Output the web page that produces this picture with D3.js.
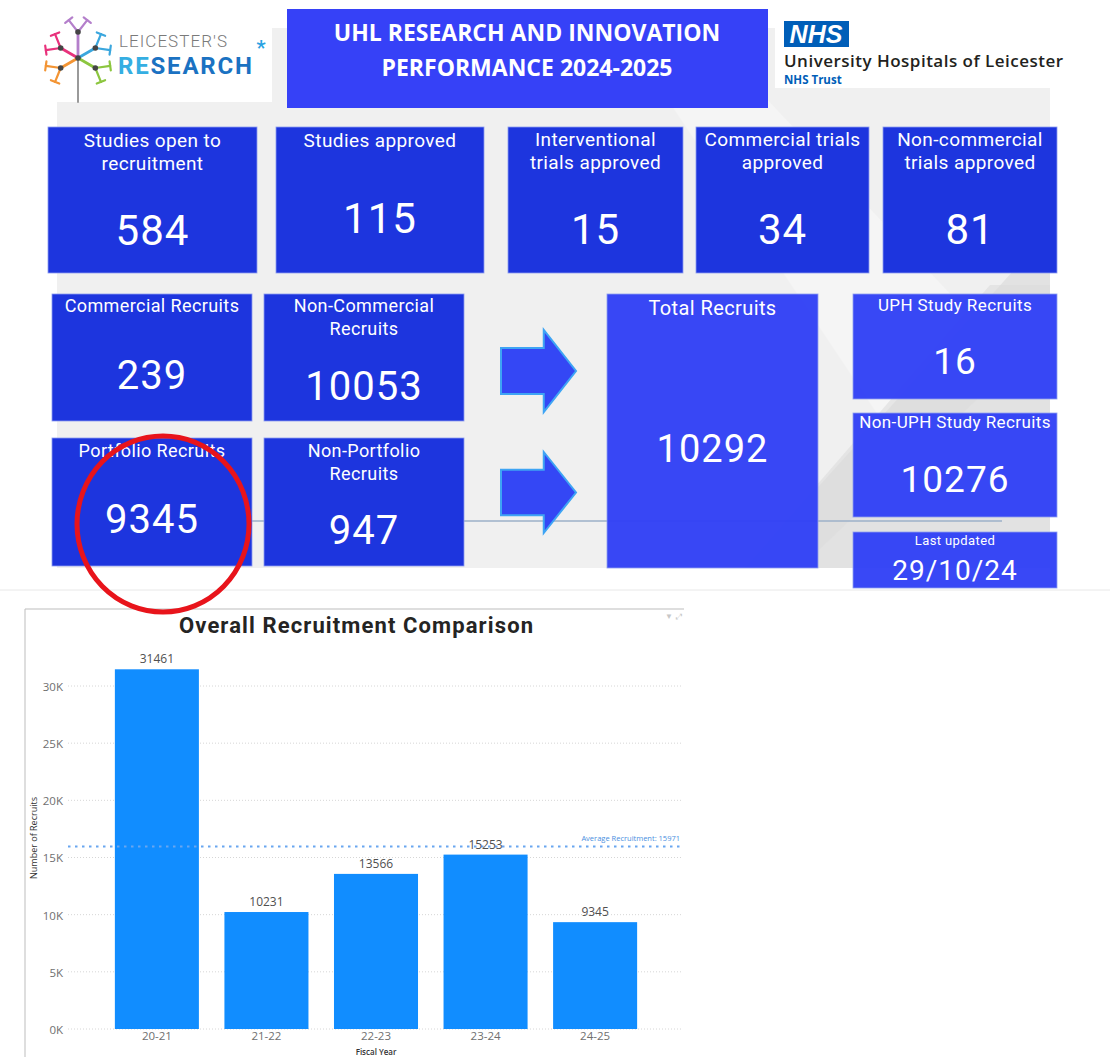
<!DOCTYPE html>
<html>
<head>
<meta charset="utf-8">
<script src="https://cdn.jsdelivr.net/npm/d3@7"></script>
<style>
  body { margin: 0; background: #fff; }
  svg { display: block; font-family: Roboto, "Noto Sans", sans-serif; }
</style>
</head>
<body>
<svg id="page" width="1110" height="1057"></svg>
<script>
// chart data
const fiscalYears = ["20-21", "21-22", "22-23", "23-24", "24-25"];
const recruits = [31461, 10231, 13566, 15253, 9345];
const yTicks = [0, 5000, 10000, 15000, 20000, 25000, 30000];

// KPI tiles
const kpiLabels = [
  "Studies open to\nrecruitment", "Studies approved", "Interventional\ntrials approved",
  "Commercial trials\napproved", "Non-commercial\ntrials approved",
  "Commercial Recruits", "Non-Commercial\nRecruits", "Portfolio Recruits", "Non-Portfolio\nRecruits",
  "Total Recruits", "UPH Study Recruits", "Non-UPH Study Recruits", "Last updated"
];
const kpiValues = ["584", "115", "15", "34", "81", "239", "10053", "9345", "947", "10292", "16", "10276", "29/10/24"];

const dark = "#1d35de", bright = "#3141f6";

// tile layout (same order as the labels)
const tileLayout = [
  {x: 48,  y: 127, w: 209, h: 146, ty: 20, vy: 118, ts: 19, vs: 42, c: dark},
  {x: 276, y: 127, w: 208, h: 146, ty: 20, vy: 106, ts: 19, vs: 42, c: dark},
  {x: 508, y: 127, w: 175, h: 146, ty: 19, vy: 117, ts: 19, vs: 42, c: dark},
  {x: 696, y: 127, w: 173, h: 146, ty: 19, vy: 117, ts: 19, vs: 42, c: dark},
  {x: 883, y: 127, w: 174, h: 146, ty: 19, vy: 117, ts: 19, vs: 42, c: dark},
  {x: 52,  y: 294, w: 200, h: 127, ty: 18, vy: 95,  ts: 18, vs: 40, c: dark},
  {x: 264, y: 294, w: 200, h: 127, ty: 18, vy: 106, ts: 18, vs: 40, c: dark},
  {x: 52,  y: 438, w: 200, h: 128, ty: 19, vy: 95,  ts: 18, vs: 40, c: dark},
  {x: 264, y: 438, w: 200, h: 128, ty: 19, vy: 106, ts: 18, vs: 40, c: dark},
  {x: 607, y: 294, w: 211, h: 274, ty: 21, vy: 168, ts: 20, vs: 38, c: bright},
  {x: 853, y: 294, w: 204, h: 105, ty: 17, vy: 80,  ts: 17, vs: 37, c: bright},
  {x: 853, y: 413, w: 204, h: 104, ty: 15, vy: 79,  ts: 17, vs: 37, c: bright},
  {x: 853, y: 532, w: 204, h: 56,  ty: 13, vy: 48,  ts: 13, vs: 28, c: bright}
];

const svg = d3.select("#page");

// grey report background + faint watermark
svg.append("rect").attr("x", 57).attr("y", 28).attr("width", 993).attr("height", 540).attr("fill", "#f0f0f0");
svg.append("polygon").attr("points", "620,28 700,28 1050,400 1050,568 980,568").attr("fill", "#f5f5f5");
svg.append("polygon").attr("points", "1050,230 1050,568 745,568").attr("fill", "#e2e2e2");
svg.append("polygon").attr("points", "990,285 1050,285 1050,330 800,568 745,568").attr("fill", "#dcdcdc").attr("opacity", 0.6);

// logo boxes
svg.append("rect").attr("x", 30).attr("y", 0).attr("width", 242).attr("height", 102).attr("fill", "#fff");
svg.append("rect").attr("x", 775).attr("y", 10).attr("width", 275).attr("height", 78).attr("fill", "#fff");

// Leicester's Research logo
const tree = svg.append("g").attr("stroke-linecap", "round");
tree.append("line").attr("x1", 78).attr("y1", 30).attr("x2", 78).attr("y2", 102)
  .attr("stroke", "#9a9a9a").attr("stroke-width", 2);
const branches = [
  {a: -90, c: "#b47fcb"}, {a: -150, c: "#e8327c"}, {a: -30, c: "#3ba7de"},
  {a: 150, c: "#f39433"}, {a: 30, c: "#8cc63f"}
];
const cx0 = 78, cy0 = 58;
branches.forEach(b => {
  const r = b.a * Math.PI / 180;
  const len = b.a === -90 ? 26 : 20;
  const nx = cx0 + len * Math.cos(r), ny = cy0 + len * Math.sin(r);
  tree.append("line").attr("x1", cx0).attr("y1", cy0).attr("x2", nx).attr("y2", ny)
    .attr("stroke", b.c).attr("stroke-width", 2.8);
  [-38, 38].forEach(d => {
    const r2 = (b.a + d) * Math.PI / 180;
    const ex = nx + 15 * Math.cos(r2), ey = ny + 15 * Math.sin(r2);
    tree.append("line").attr("x1", nx).attr("y1", ny).attr("x2", ex).attr("y2", ey)
      .attr("stroke", b.c).attr("stroke-width", 2.2);
    const rp = r2 + Math.PI / 2;
    tree.append("line")
      .attr("x1", ex - 4.5 * Math.cos(rp)).attr("y1", ey - 4.5 * Math.sin(rp))
      .attr("x2", ex + 4.5 * Math.cos(rp)).attr("y2", ey + 4.5 * Math.sin(rp))
      .attr("stroke", b.c).attr("stroke-width", 2.2);
  });
  tree.append("circle").attr("cx", nx).attr("cy", ny).attr("r", 2.8).attr("fill", "#444");
});
tree.append("circle").attr("cx", cx0).attr("cy", cy0).attr("r", 2.8).attr("fill", "#444");

svg.append("text").attr("x", 119).attr("y", 47).attr("font-size", 17).attr("font-weight", 300)
  .attr("fill", "#7a7a7a").attr("textLength", 108).text("LEICESTER'S");
const rs = svg.append("text").attr("x", 118).attr("y", 74).attr("font-size", 24).attr("font-weight", 700)
  .attr("textLength", 134);
rs.append("tspan").attr("fill", "#35aee2").text("RE");
rs.append("tspan").attr("fill", "#1b72c2").text("SEARCH");
svg.append("text").attr("x", 261).attr("y", 55).attr("text-anchor", "middle").attr("font-size", 20)
  .attr("font-weight", 700).attr("fill", "#2aa2e2").text("*");

// header
svg.append("rect").attr("x", 287).attr("y", 9).attr("width", 481).attr("height", 99).attr("fill", "#3641f7");
svg.append("text").attr("x", 527).attr("y", 41).attr("text-anchor", "middle").attr("fill", "#fff")
  .attr("font-family", "'Open Sans', sans-serif").attr("font-weight", 700).attr("font-size", 23)
  .text("UHL RESEARCH AND INNOVATION");
svg.append("text").attr("x", 527).attr("y", 76).attr("text-anchor", "middle").attr("fill", "#fff")
  .attr("font-family", "'Open Sans', sans-serif").attr("font-weight", 700).attr("font-size", 23)
  .text("PERFORMANCE 2024-2025");

// NHS logo
svg.append("rect").attr("x", 784).attr("y", 21).attr("width", 65).attr("height", 26).attr("fill", "#005eb8");
svg.append("text").attr("x", 816).attr("y", 43).attr("text-anchor", "middle").attr("fill", "#fff")
  .attr("font-family", "Arial, 'Liberation Sans', sans-serif").attr("font-weight", 700)
  .attr("font-style", "italic").attr("font-size", 25).text("NHS");
svg.append("text").attr("x", 784).attr("y", 67).attr("fill", "#231f20")
  .attr("font-family", "'Open Sans', sans-serif").attr("font-weight", 600).attr("font-size", 17)
  .attr("textLength", 279).text("University Hospitals of Leicester");
svg.append("text").attr("x", 784).attr("y", 84).attr("fill", "#005eb8")
  .attr("font-family", "'Open Sans', sans-serif").attr("font-weight", 700).attr("font-size", 11.5)
  .text("NHS Trust");

// thin connector line behind tiles
svg.append("line").attr("x1", 238).attr("y1", 521).attr("x2", 1002).attr("y2", 521)
  .attr("stroke", "#9db1c9").attr("stroke-width", 1.5);

// arrows
const arrowBoxes = [{x: 501, y: 330, w: 75, h: 82}, {x: 501, y: 452, w: 75, h: 81}];
svg.selectAll("path.arrow").data(arrowBoxes).join("path").attr("class", "arrow")
  .attr("d", a => {
    const hx = a.x + a.w * 0.57, s1 = a.y + a.h * 0.22, s2 = a.y + a.h * 0.78;
    return `M${a.x},${s1}H${hx}V${a.y}L${a.x + a.w},${a.y + a.h / 2}L${hx},${a.y + a.h}V${s2}H${a.x}Z`;
  })
  .attr("fill", "#3447f5").attr("stroke", "#3ea4f4").attr("stroke-width", 2);

// tiles
const tiles = svg.selectAll("g.tile").data(kpiLabels.map((l, i) => ({label: l, value: kpiValues[i], ...tileLayout[i]})))
  .join("g").attr("class", "tile").attr("transform", d => `translate(${d.x},${d.y})`);
tiles.append("rect").attr("width", d => d.w).attr("height", d => d.h).attr("fill", d => d.c)
  .attr("opacity", d => d.c === bright ? 0.96 : 1)
  .attr("stroke", "#8c9cf0").attr("stroke-width", 0.8);
tiles.each(function (d) {
  const g = d3.select(this);
  d.label.split("\n").forEach((line, k) => {
    g.append("text").attr("x", d.w / 2).attr("y", d.ty + k * 23).attr("text-anchor", "middle")
      .attr("fill", "#fff").attr("font-size", d.ts).attr("font-weight", 400)
      .attr("letter-spacing", 0.4).text(line);
  });
  g.append("text").attr("x", d.w / 2).attr("y", d.vy).attr("text-anchor", "middle")
    .attr("fill", "#fff").attr("font-size", d.vs).attr("font-weight", 400)
    .attr("letter-spacing", 1).text(d.value);
});

// separator
svg.append("line").attr("x1", 0).attr("y1", 590).attr("x2", 1110).attr("y2", 590)
  .attr("stroke", "#e8e8e8").attr("stroke-width", 1);

// ---- bar chart ----
const chart = svg.append("g");
chart.append("path").attr("d", "M25,1057V609H684").attr("fill", "none").attr("stroke", "#bdbdbd");
chart.append("text").attr("x", 665).attr("y", 619).attr("font-size", 8).attr("fill", "#c8c8c8").text("\u25BC");
chart.append("text").attr("x", 676).attr("y", 619).attr("font-size", 8).attr("fill", "#c8c8c8").text("\u2922");

chart.append("text").attr("x", 356).attr("y", 633).attr("text-anchor", "middle")
  .attr("font-size", 22).attr("font-weight", 700).attr("fill", "#252423")
  .attr("textLength", 354).text("Overall Recruitment Comparison");

const x = d3.scaleBand().domain(fiscalYears).range([82, 670]).paddingInner(0.233).paddingOuter(0.3);
const y = d3.scaleLinear().domain([0, 30000]).range([1029, 686]);

chart.selectAll("line.grid").data(yTicks).join("line").attr("class", "grid")
  .attr("x1", 68).attr("x2", 682).attr("y1", d => y(d)).attr("y2", d => y(d))
  .attr("stroke", "#d6d6d6").attr("stroke-dasharray", "1,2");

const yAxis = chart.append("g").attr("transform", "translate(68,0)")
  .call(d3.axisLeft(y).tickValues(yTicks).tickSize(0).tickPadding(5).tickFormat(d => d / 1000 + "K"));
yAxis.select(".domain").remove();
yAxis.selectAll("text").attr("font-family", "'Open Sans', sans-serif").attr("font-size", 11.5)
  .attr("fill", "#6f6f6f").attr("dy", "0.38em");

const avg = d3.mean(recruits);

chart.selectAll("rect.bar").data(recruits).join("rect").attr("class", "bar")
  .attr("x", (d, i) => x(fiscalYears[i])).attr("width", x.bandwidth())
  .attr("y", d => y(d)).attr("height", d => y(0) - y(d)).attr("fill", "#118dff");

chart.append("line").attr("x1", 68).attr("x2", 684).attr("y1", y(avg)).attr("y2", y(avg))
  .attr("stroke", "#69a6f0").attr("stroke-width", 2).attr("stroke-dasharray", "2.5,4.5");
chart.append("text").attr("x", 680).attr("y", y(avg) - 5).attr("text-anchor", "end")
  .attr("font-family", "'Open Sans', sans-serif").attr("font-size", 7.5).attr("fill", "#4a8fe0")
  .text("Average Recruitment: " + Math.round(avg));

chart.selectAll("text.lbl").data(recruits).join("text").attr("class", "lbl")
  .attr("x", (d, i) => x(fiscalYears[i]) + x.bandwidth() / 2).attr("y", d => y(d) - 6)
  .attr("text-anchor", "middle").attr("font-family", "'Open Sans', sans-serif")
  .attr("font-size", 12).attr("fill", "#505050").text(d => d);

const xAxis = chart.append("g").attr("transform", `translate(0,${y(0)})`)
  .call(d3.axisBottom(x).tickSize(0).tickPadding(3));
xAxis.select(".domain").remove();
xAxis.selectAll("text").attr("font-family", "'Open Sans', sans-serif").attr("font-size", 11.5)
  .attr("fill", "#6f6f6f");

chart.append("text").attr("x", 376).attr("y", 1055).attr("text-anchor", "middle")
  .attr("font-family", "'Open Sans', sans-serif").attr("font-size", 8).attr("font-weight", 600)
  .attr("fill", "#333").text("Fiscal Year");
chart.append("text").attr("transform", "translate(37,838) rotate(-90)").attr("text-anchor", "middle")
  .attr("font-family", "'Open Sans', sans-serif").attr("font-size", 9).attr("fill", "#333")
  .text("Number of Recruits");

// red highlight ring
svg.append("ellipse").attr("cx", 163).attr("cy", 524).attr("rx", 86).attr("ry", 88)
  .attr("fill", "none").attr("stroke", "#e8141b").attr("stroke-width", 5);
</script>
</body>
</html>
